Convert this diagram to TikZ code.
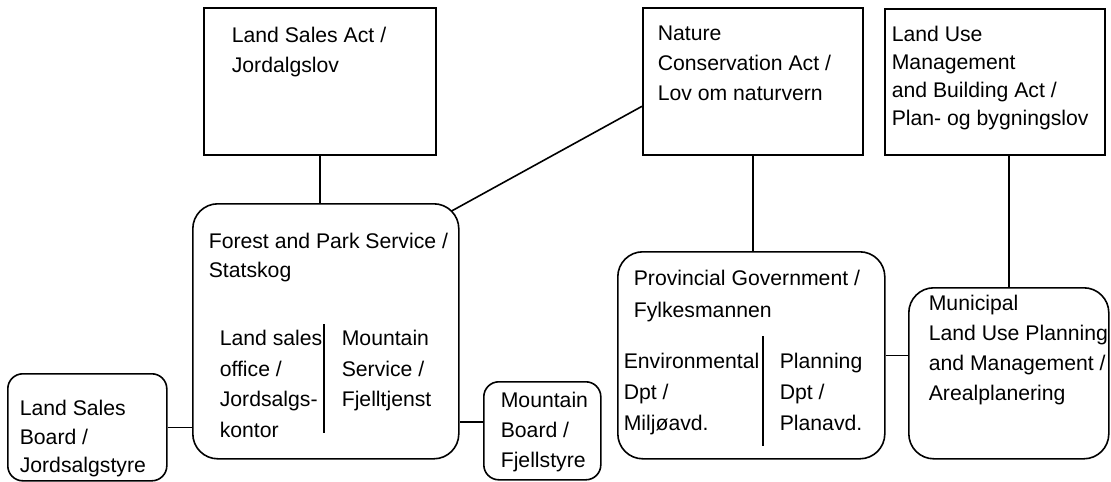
\documentclass[tikz,border=0pt]{standalone}
\usepackage{fontspec}
\setmainfont{Liberation Sans}
\usepackage{tikz}
\usetikzlibrary{calc}

\tikzset{
  box/.style = {draw, rectangle, inner sep=0pt, anchor=north west},
  rbox/.style = {box, rounded corners=12.5pt},
  sbox/.style = {box, rounded corners=7.5pt},
  lbl/.style = {anchor=north west, inner sep=0pt, align=left,
                font=\fontsize{10.6}{15}\selectfont}
}

\begin{document}
\begin{tikzpicture}[x=0.5pt, y=-0.5pt, line width=0.8pt]
  \useasboundingbox (0,0) rectangle (1111,481);
  % the three acts
  \node[box, minimum width=116pt, minimum height=73.5pt] (lsa) at (203,7) {};
  \node[box, minimum width=110pt, minimum height=73.5pt] (nca) at (642,7) {};
  \node[box, minimum width=110pt, minimum height=73pt] (pbl) at (884,8) {};
  % the offices
  \node[rbox, minimum width=133pt, minimum height=127.5pt] (fps) at (192,203) {};
  \node[sbox, minimum width=79.5pt, minimum height=53.5pt] (lsb) at (7,373) {};
  \node[sbox, minimum width=58.5pt, minimum height=49pt] (mb) at (483,381) {};
  \node[rbox, minimum width=133.5pt, minimum height=103.5pt] (pg) at (617,251) {};
  \node[rbox, minimum width=100pt, minimum height=85.5pt] (mun) at (908,287) {};
  % texts
  \node[lbl] (tlsa) at (231,26.5) {Land Sales Act /\\Jordalgslov};
  \node[lbl] (tnca) at (657,25.5) {Nature\\Conservation Act /\\Lov om naturvern};
  \node[lbl, font=\fontsize{10.6}{14}\selectfont] (tpbl) at (891,25.5)
    {Land Use\\Management\\and Building Act /\\Plan- og bygningslov};
  \node[lbl, font=\fontsize{10.6}{14.5}\selectfont] (tfps) at (208,232.5)
    {Forest and Park Service /\\Statskog};
  \node[lbl, font=\fontsize{10.6}{15.25}\selectfont] (tlso) at (219,329.5)
    {Land sales\\office /\\Jordsalgs-\\kontor};
  \node[lbl, font=\fontsize{10.6}{15.25}\selectfont] (tms) at (341,329.5)
    {Mountain\\Service /\\Fjelltjenst};
  \node[lbl, font=\fontsize{10.6}{14.25}\selectfont] (tlsb) at (19,399.5)
    {Land Sales\\Board /\\Jordsalgstyre};
  \node[lbl] (tmb) at (500,391.5) {Mountain\\Board /\\Fjellstyre};
  \node[lbl, font=\fontsize{10.6}{16}\selectfont] (tpg) at (633,269.5)
    {Provincial Government /\\Fylkesmannen};
  \node[lbl, font=\fontsize{10.6}{15.5}\selectfont] (tenv) at (623,352.5)
    {Environmental\\Dpt /\\Miljøavd.};
  \node[lbl, font=\fontsize{10.6}{15.5}\selectfont] (tpla) at (779,352.5)
    {Planning\\Dpt /\\Planavd.};
  \node[lbl] (tmun) at (928,294.5)
    {Municipal\\Land Use Planning\\and Management /\\Arealplanering};
  % dividers
  \draw (324,324) -- (324,433);
  \draw (763,336) -- (763,446);
  % links
  \coordinate (mbin) at ($(mb.west)+(0,-9)$);
  \draw (lsa.south) -- (lsa.south |- fps.north);
  \draw ($(fps.north east)+(-8,8)$) -- ($(nca.west)+(0,25)$);
  \draw (nca.south) -- (nca.south |- pg.north);
  \draw (mun.north) -- (mun.north |- pbl.south);
  \draw (lsb.east) -- (lsb.east -| fps.west);
  \draw (mbin) -- (mbin -| fps.east);
  \draw (pg.east) -- (pg.east -| mun.west);
\end{tikzpicture}
\end{document}
